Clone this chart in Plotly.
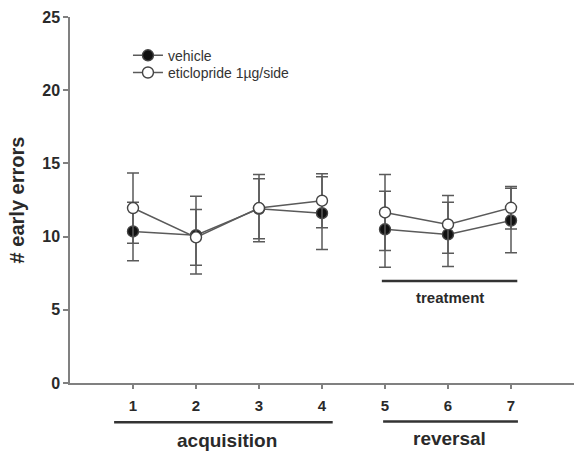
import plotly.graph_objects as go

# Session numbers (1-4 acquisition, 5-7 reversal)
sessions = [1, 2, 3, 4, 5, 6, 7]
n_acquisition = 4

# Mean early errors and SEM per group
vehicle_mean = [10.35, 10.1, 11.9, 11.6, 10.5, 10.15, 11.1]
vehicle_sem = [2.0, 2.65, 2.05, 2.48, 2.6, 2.2, 2.2]
eticlopride_mean = [11.95, 9.95, 11.95, 12.45, 11.65, 10.83, 11.97]
eticlopride_sem = [2.4, 1.9, 2.3, 1.85, 2.6, 1.97, 1.45]

tick_labels = ["1", "2", "3", "4", "5", "6", "7"]

FONT = "Liberation Sans, Arial, sans-serif"
LINE_COL = "#5a5a5a"
AXIS_COL = "#808080"
TEXT_COL = "#2a2a2a"

fig = go.Figure()

groups = [
    ("vehicle", vehicle_mean, vehicle_sem, "#111111", "legend"),
    ("eticlopride 1µg/side", eticlopride_mean, eticlopride_sem, "white", "legend2"),
]
phases = [slice(0, n_acquisition), slice(n_acquisition, len(sessions))]

for name, mean, sem, fill, legend_id in groups:
    for i, ph in enumerate(phases):
        fig.add_trace(go.Scatter(
            x=sessions[ph], y=mean[ph], name=name, mode="lines+markers",
            legendgroup=name, showlegend=(i == 0), legend=legend_id,
            line=dict(color=LINE_COL, width=1.5),
            marker=dict(symbol="circle", size=11, color=fill,
                        line=dict(color="#444444", width=1.4)),
            error_y=dict(type="data", array=sem[ph], visible=True,
                         color=LINE_COL, thickness=1.5, width=6),
        ))

# Phase brackets below the x axis and the treatment bracket inside the plot
shapes = [
    dict(type="line", xref="x", yref="paper", x0=0.70, x1=4.17,
         y0=-0.107, y1=-0.107, line=dict(color="#333333", width=2.5)),
    dict(type="line", xref="x", yref="paper", x0=4.97, x1=7.11,
         y0=-0.105, y1=-0.105, line=dict(color="#333333", width=2.5)),
    dict(type="line", xref="x", yref="y", x0=4.95, x1=7.10,
         y0=6.97, y1=6.97, line=dict(color="#333333", width=2.5)),
]
annotations = [
    dict(text="<b>acquisition</b>", xref="x", yref="paper", x=2.49, y=-0.158,
         yanchor="middle", showarrow=False,
         font=dict(family=FONT, size=19, color=TEXT_COL)),
    dict(text="<b>reversal</b>", xref="x", yref="paper", x=6.03, y=-0.152,
         yanchor="middle", showarrow=False,
         font=dict(family=FONT, size=19, color=TEXT_COL)),
    dict(text="<b>treatment</b>", xref="x", yref="y", x=6.03, y=5.87,
         yanchor="middle", showarrow=False,
         font=dict(family=FONT, size=15, color=TEXT_COL)),
]

legend_style = dict(xanchor="left", yanchor="top", bgcolor="rgba(0,0,0,0)",
                    itemwidth=30, tracegroupgap=0,
                    font=dict(family=FONT, size=14, color="#333333"))

fig.update_layout(
    width=574, height=451,
    margin=dict(l=70, r=0, t=17, b=68),
    paper_bgcolor="white", plot_bgcolor="white",
    font=dict(family=FONT, color=TEXT_COL),
    showlegend=True,
    legend=dict(x=0.115, y=0.938, **legend_style),
    legend2=dict(x=0.115, y=0.891, **legend_style),
    shapes=shapes,
    annotations=annotations,
    xaxis=dict(range=[0, 8], tickmode="array", tickvals=sessions,
               ticktext=["<b>%s</b>" % t for t in tick_labels],
               showline=True, linecolor=AXIS_COL, linewidth=1.5,
               ticks="outside", ticklen=4, tickcolor=AXIS_COL, tickwidth=1.5,
               ticklabelstandoff=4,
               showgrid=False, zeroline=False,
               tickfont=dict(family=FONT, size=15, color=TEXT_COL)),
    yaxis=dict(range=[0, 25], tickvals=[0, 5, 10, 15, 20, 25],
               ticktext=["<b>%d</b>" % v for v in [0, 5, 10, 15, 20, 25]],
               showline=True, linecolor=AXIS_COL, linewidth=1.5,
               ticks="outside", ticklen=5, tickcolor=AXIS_COL, tickwidth=1.5,
               showgrid=False, zeroline=False,
               tickfont=dict(family=FONT, size=16, color=TEXT_COL),
               title=dict(text="<b># early errors</b>", standoff=12,
                          font=dict(family=FONT, size=20, color=TEXT_COL))),
)

fig.write_html("out.html")
